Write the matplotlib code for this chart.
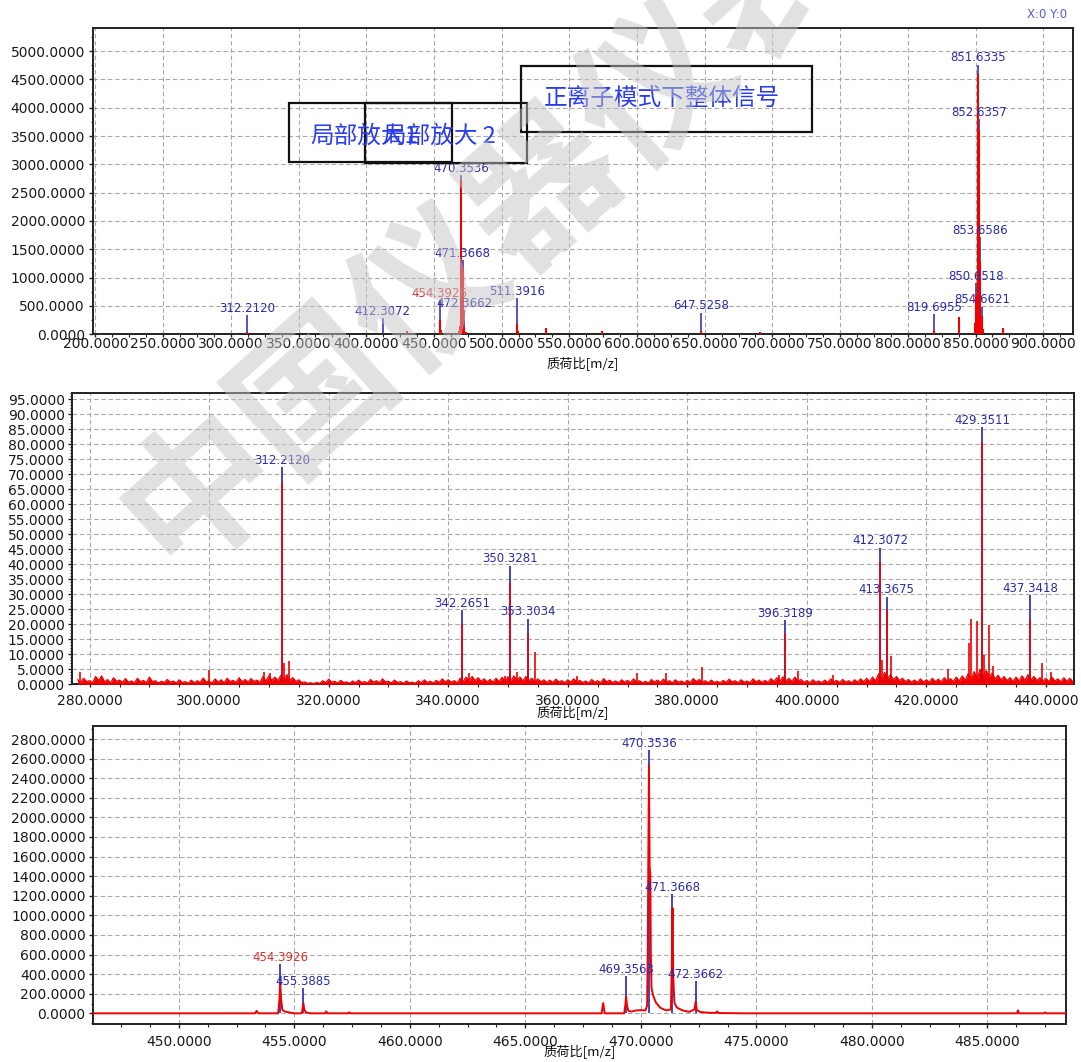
import matplotlib
matplotlib.use('Agg')
import matplotlib.pyplot as plt
from matplotlib.ticker import MultipleLocator, FormatStrFormatter
from matplotlib.patches import Rectangle
import numpy as np

plt.rcParams['font.family'] = ['DejaVu Sans', 'Noto Sans CJK SC']
CJK = ['Noto Sans CJK SC', 'DejaVu Sans']

# ---------------- Panel 1: full positive-ion spectrum ----------------
p1_label_mz = [312.2120, 412.3072, 454.3926, 470.3536, 471.3668, 472.3662, 511.3916,
               647.5258, 819.6955, 850.6518, 851.6335, 852.6357, 853.6586, 854.6621]
p1_label_int = [341, 290, 606, 2814, 1310, 429, 636, 382, 359, 901, 4758, 3799, 1714, 488]
p1_label_red = [False, False, True, False, False, False, False,
                False, False, False, False, False, False, False]
p1_red_mz = [312.2, 412.3, 430.2, 454.4, 455.4, 468.4, 469.4, 470.35, 470.45, 471.37,
             472.37, 473.4, 511.4, 512.4, 532.5, 574.0, 647.5, 691.0, 819.7, 837.6,
             849.6, 850.65, 851.63, 852.64, 853.66, 854.66, 855.7, 870.5]
p1_red_int = [40, 10, 65, 250, 80, 60, 150, 2720, 280, 1150,
              130, 40, 180, 60, 120, 60, 60, 40, 60, 310,
              200, 700, 4600, 3600, 1300, 320, 100, 110]

# ---------------- Panel 2: zoom 280-440 ----------------
p2_label_mz = [312.2120, 342.2651, 350.3281, 353.3034, 396.3189, 412.3072, 413.3675, 429.3511, 437.3418]
p2_label_int = [72.3, 24.7, 39.5, 21.8, 21.4, 45.5, 29.2, 85.6, 29.7]
p2_peak_red_int = [67, 20, 33.6, 17, 17, 40.8, 24.7, 80.8, 21.4]
p2_spike_mz = [278.4, 300.0, 309.2, 310.1, 312.6, 313.3, 343.5, 349.5, 351.5, 354.6,
               361.6, 371.5, 376.4, 382.5, 395.4, 398.5, 404.4, 412.5, 414.0, 423.6,
               427.1, 427.4, 428.4, 429.7, 430.4, 431.2, 439.3, 440.8]
p2_spike_int = [4.2, 4.8, 4.2, 3.8, 7.0, 7.8, 3.9, 2.7, 4.0, 10.7,
                2.8, 3.9, 3.9, 5.9, 3.0, 4.5, 3.0, 8.0, 9.5, 5.0,
                13.7, 21.8, 21.2, 9.6, 19.7, 6.0, 7.0, 4.0]
# baseline noise: local maxima at integer m/z, local minima at half-integer m/z
p2_noise_start = 278
p2_noise_hi = [1.5, 2.0, 1.2, 2.6, 2.8, 1.6, 2.2, 1.4, 1.9, 1.1,
               2.0, 1.3, 2.4, 1.2, 1.0, 1.6, 1.1, 1.5, 0.9, 1.4,
               1.2, 2.1, 1.0, 1.8, 1.5, 2.0, 1.3, 2.2, 1.6, 1.9,
               1.4, 2.6, 2.8, 2.4, 3.0, 3.2, 2.2, 1.5, 0.8, 0.5,
               0.6, 1.2, 1.7, 1.0, 1.3, 0.8, 1.1, 1.4, 0.9, 1.6,
               1.2, 1.8, 1.0, 1.4, 0.9, 1.1, 0.7, 1.2, 1.5, 1.0,
               1.3, 1.8, 1.5, 1.2, 2.0, 2.4, 2.6, 2.2, 1.8, 1.6,
               2.0, 2.3, 2.5, 2.8, 2.4, 2.6, 2.0, 1.8, 1.5, 1.4,
               1.7, 1.2, 1.5, 1.8, 1.3, 1.1, 1.6, 1.2, 1.9, 1.4,
               1.1, 1.5, 1.3, 1.8, 1.2, 1.0, 1.6, 1.4, 1.7, 1.2,
               1.5, 1.1, 1.3, 1.9, 1.6, 1.2, 1.4, 1.0, 1.3, 1.7,
               1.2, 1.5, 1.1, 1.8, 1.4, 1.3, 1.9, 2.2, 2.5, 2.0,
               2.4, 1.6, 1.2, 1.5, 1.1, 1.4, 1.8, 1.3, 1.6, 1.2,
               1.5, 1.8, 2.0, 2.4, 3.5, 4.0, 3.2, 2.6, 2.0, 1.6,
               1.4, 1.8, 1.5, 2.0, 1.7, 2.2, 1.9, 2.4, 2.8, 3.6,
               4.2, 5.0, 4.6, 3.8, 3.0, 2.6, 2.2, 2.4, 2.8, 3.2,
               2.6, 2.2, 2.0, 2.4, 1.8, 2.2, 2.0]
p2_noise_lo = [0.6, 0.9, 0.5, 1.2, 0.8, 0.4, 1.0, 0.6, 0.7, 0.5,
               0.8, 0.5, 0.9, 0.4, 0.6, 0.7, 0.4, 0.6, 0.3, 0.5,
               0.6, 0.8, 0.4, 0.7, 0.5, 0.9, 0.6, 0.8, 0.7, 0.9,
               0.6, 1.1, 1.3, 1.2, 1.6, 1.4, 0.9, 0.6, 0.3, 0.2,
               0.3, 0.5, 0.7, 0.4, 0.6, 0.3, 0.5, 0.6, 0.4, 0.7,
               0.5, 0.8, 0.4, 0.6, 0.3, 0.5, 0.3, 0.5, 0.6, 0.4,
               0.6, 0.8, 0.7, 0.5, 0.9, 1.1, 1.2, 1.0, 0.8, 0.7,
               0.9, 1.1, 1.2, 1.3, 1.1, 1.2, 0.9, 0.8, 0.6, 0.6,
               0.8, 0.5, 0.7, 0.8, 0.6, 0.4, 0.7, 0.5, 0.8, 0.6,
               0.5, 0.7, 0.6, 0.8, 0.5, 0.4, 0.7, 0.6, 0.8, 0.5,
               0.7, 0.5, 0.6, 0.9, 0.7, 0.5, 0.6, 0.4, 0.6, 0.8,
               0.5, 0.7, 0.5, 0.8, 0.6, 0.6, 0.9, 1.0, 1.1, 0.9,
               1.1, 0.7, 0.5, 0.7, 0.5, 0.6, 0.8, 0.6, 0.7, 0.5,
               0.7, 0.8, 0.9, 1.1, 1.6, 1.9, 1.5, 1.2, 0.9, 0.7,
               0.6, 0.8, 0.7, 0.9, 0.8, 1.0, 0.9, 1.1, 1.3, 1.7,
               2.0, 2.4, 2.2, 1.8, 1.4, 1.2, 1.0, 1.1, 1.3, 1.5,
               1.2, 1.0, 0.9, 1.1, 0.8, 1.0, 0.9]

# ---------------- Panel 3: zoom 446-488 ----------------
p3_label_mz = [454.3926, 455.3885, 469.3563, 470.3536, 471.3668, 472.3662]
p3_label_int = [500, 255, 381, 2688, 1218, 330]
p3_label_red = [True, False, False, False, False, False]
p3_prof_mz = [446.0, 453.30, 453.37, 453.44, 454.30, 454.35, 454.39, 454.43, 454.48, 454.60,
              454.80, 455.00, 455.32, 455.36, 455.39, 455.43, 455.50, 455.70, 456.33, 456.38,
              456.44, 457.33, 457.38, 457.44, 468.30, 468.37, 468.43, 469.28, 469.33, 469.36,
              469.40, 469.46, 469.60, 469.80, 470.00, 470.20, 470.27, 470.30, 470.32, 470.35,
              470.38, 470.41, 470.43, 470.46, 470.52, 470.65, 470.85, 471.10, 471.30, 471.34,
              471.37, 471.40, 471.45, 471.55, 471.80, 472.10, 472.32, 472.37, 472.42, 472.55,
              472.80, 473.10, 473.25, 473.30, 473.36, 474.50, 486.28, 486.32, 486.37, 487.45,
              487.50, 487.55, 489.0]
p3_prof_int = [0, 0, 25, 0, 0, 120, 310, 140, 35, 18,
               8, 0, 0, 50, 100, 40, 10, 0, 0, 20,
               0, 0, 10, 0, 0, 105, 0, 0, 90, 170,
               80, 25, 18, 30, 32, 30, 80, 700, 1500, 2530,
               1500, 1400, 600, 260, 190, 110, 55, 30, 40, 500,
               1075, 380, 110, 60, 30, 15, 40, 119, 35, 15,
               8, 5, 5, 20, 3, 0, 0, 30, 0, 0,
               10, 0, 0]

RED = '#f00000'
BLUE = '#2424b4'
LBL_BLUE = '#2c2caa'
LBL_RED = '#dc3030'
XLABEL = '质荷比[m/z]'

fig = plt.figure(figsize=(10.81, 10.62), dpi=100)
W, H = 1081.0, 1062.0


def add_axes(left, right, top, bottom):
    return fig.add_axes([left / W, 1 - bottom / H, (right - left) / W, (bottom - top) / H])


def style(ax, xlim, ylim, xmaj, ymaj, ymin_step, xlen, xpad, label_y):
    ax.set_xlim(*xlim)
    ax.set_ylim(*ylim)
    ax.xaxis.set_major_locator(MultipleLocator(xmaj))
    ax.xaxis.set_minor_locator(MultipleLocator(xmaj / 4))
    ax.yaxis.set_major_locator(MultipleLocator(ymaj))
    ax.yaxis.set_minor_locator(MultipleLocator(ymin_step))
    ax.xaxis.set_major_formatter(FormatStrFormatter('%.4f'))
    ax.yaxis.set_major_formatter(FormatStrFormatter('%.4f'))
    ax.grid(True, which='major', color='#a8a8a8', linestyle=(0, (4, 2.5)), linewidth=0.8)
    ax.set_axisbelow(True)
    ax.tick_params(which='major', direction='out', length=3, width=1.0, color='#222222',
                   labelsize=10, labelcolor='#1a1a1a')
    ax.tick_params(which='minor', direction='out', length=1.8, width=0.8, color='#222222')
    ax.tick_params(axis='x', which='major', length=xlen, pad=xpad)
    ax.tick_params(axis='x', which='minor', length=min(xlen, 1.8))
    ax.tick_params(axis='y', pad=2.5)
    for s in ax.spines.values():
        s.set_linewidth(1.4)
        s.set_color('#222222')
    ax.set_xlabel(XLABEL, fontsize=9.5, family=CJK, color='#111111')
    ax.xaxis.set_label_coords(0.5, label_y)
    ax.xaxis.label.set_va('center')


def labels(ax, mzs, ints, reds, fs=8.5):
    for mz, h, r in zip(mzs, ints, reds):
        ax.annotate(f'{mz:.4f}', xy=(mz, h), xytext=(0, 2.4), textcoords='offset points',
                    ha='center', va='baseline', fontsize=fs,
                    color=LBL_RED if r else LBL_BLUE, zorder=6)


# ---- Panel 1 ----
ax1 = add_axes(92.7, 1073, 27.7, 334.3)
style(ax1, (198, 922), (0, 5412), 50, 500, 250, 2.0, 0.0, -0.097)
ax1.vlines(p1_label_mz, 0, p1_label_int, colors=BLUE, lw=1.1, zorder=3)
ax1.vlines(p1_red_mz, 0, p1_red_int, colors=RED, lw=1.5, zorder=4)
labels(ax1, p1_label_mz, p1_label_int, p1_label_red)

boxes = [(289.0, 451.6, 103.0, 162.5), (364.7, 527.4, 103.3, 163.3), (520.5, 812.0, 65.7, 131.7)]
for l, r, t, b in boxes:
    x0 = (l - 92.7) / 980.3
    x1 = (r - 92.7) / 980.3
    y0 = (334.3 - b) / 306.6
    y1 = (334.3 - t) / 306.6
    ax1.add_patch(Rectangle((x0, y0), x1 - x0, y1 - y0, transform=ax1.transAxes,
                            fill=False, ec='#111111', lw=1.6, zorder=7, clip_on=False))
box_texts = [('局部放大1', 310.0, 136.0), ('局部放大 2', 383.0, 136.0), ('正离子模式下整体信号', 543.4, 98.3)]
for s, px, py in box_texts:
    ax1.text((px - 92.7) / 980.3, (334.3 - py) / 306.6, s, transform=ax1.transAxes,
             fontsize=17, color='#2a3cf0', ha='left', va='center', family=CJK, zorder=8)

# ---- Panel 2 ----
ax2 = add_axes(72.3, 1074, 392.7, 684.3)
style(ax2, (277.1, 444.7), (0, 97.1), 20, 5, 1, 2.5, 4.6, -0.099)
n_hi_x = np.arange(len(p2_noise_hi)) + p2_noise_start
n_lo_x = n_hi_x + 0.5
nx = np.ravel(np.column_stack([n_hi_x, n_lo_x]))
ny = np.ravel(np.column_stack([p2_noise_hi, p2_noise_lo]))
ax2.fill_between(nx, 0, ny, color=RED, lw=0, zorder=3)
ax2.plot(nx, ny, color=RED, lw=0.9, zorder=3)
ax2.vlines(p2_spike_mz, 0, p2_spike_int, colors=RED, lw=1.2, zorder=4)
ax2.vlines(p2_label_mz, 0, p2_label_int, colors=BLUE, lw=1.2, zorder=3)
ax2.vlines(p2_label_mz, 0, p2_peak_red_int, colors=RED, lw=1.2, zorder=4)
labels(ax2, p2_label_mz, p2_label_int, [False] * len(p2_label_mz))

# ---- Panel 3 ----
ax3 = add_axes(93.3, 1066, 726.0, 1024.3)
style(ax3, (446.3, 488.4), (-112, 2933), 5, 200, 100, 3.0, 4.6, -0.094)
ax3.vlines(p3_label_mz, 0, p3_label_int, colors=BLUE, lw=1.2, zorder=3)
ax3.plot(p3_prof_mz, p3_prof_int, color=RED, lw=1.4, zorder=4)
labels(ax3, p3_label_mz, p3_label_int, p3_label_red)

# ---- Top-right coordinate readout ----
fig.text(1067 / W, 1 - 14 / H, 'X:0 Y:0', ha='right', va='center', fontsize=8.5, color='#5a5ac8')

# ---- Watermark ----
fig.text(0.4487, 0.7787, '中国仪器仪表', rotation=42, rotation_mode='anchor', ha='center', va='center',
         fontsize=110, color='#c4c4c4', alpha=0.5, family=CJK, fontweight='bold', zorder=20)

fig.savefig('out.png', dpi=100, facecolor='white')
